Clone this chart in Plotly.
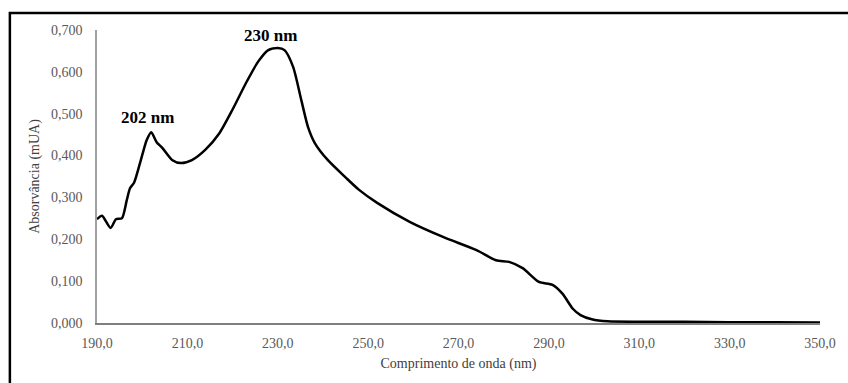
import plotly.graph_objects as go

wavelength = [190.0, 191.1, 193.0, 194.2, 195.5, 196.6, 197.3, 198.2, 199.9, 201.0, 202.0,
              203.2, 204.5, 206.7, 208.6, 211.0, 214.0, 217.0, 220.0, 223.0, 225.7, 227.9,
              230.0, 231.5, 233.4, 235.2, 236.7, 238.2, 241.1, 245.0, 248.0, 252.0, 259.3,
              266.7, 274.0, 278.3, 281.2, 284.2, 287.8, 290.8, 293.0, 295.3, 297.0, 299.5,
              303.0, 310.0, 320.0, 330.0, 340.0, 350.0]
absorbance = [0.248, 0.256, 0.227, 0.248, 0.250, 0.294, 0.322, 0.335, 0.397, 0.437, 0.456,
              0.432, 0.418, 0.389, 0.382, 0.389, 0.414, 0.452, 0.510, 0.574, 0.625, 0.652,
              0.657, 0.652, 0.612, 0.533, 0.468, 0.430, 0.389, 0.348, 0.318, 0.287, 0.241,
              0.205, 0.174, 0.150, 0.146, 0.131, 0.098, 0.091, 0.070, 0.034, 0.019, 0.009,
              0.004, 0.003, 0.003, 0.002, 0.002, 0.001]
x_ticks = [190, 210, 230, 250, 270, 290, 310, 330, 350]
y_ticks = [0.0, 0.1, 0.2, 0.3, 0.4, 0.5, 0.6, 0.7]
peak_labels = ["202 nm", "230 nm"]
peak_x = [201.2, 228.4]
peak_y = [0.492, 0.688]

FONT = "Liberation Serif, Times New Roman, serif"

fig = go.Figure()
fig.add_trace(go.Scatter(
    x=wavelength, y=absorbance, mode="lines",
    line=dict(color="black", width=2.5, shape="spline", smoothing=0.7),
    hoverinfo="skip", showlegend=False,
))

for t, xx, yy in zip(peak_labels, peak_x, peak_y):
    fig.add_annotation(x=xx, y=yy, text="<b>" + t + "</b>", showarrow=False,
                       font=dict(family=FONT, size=17, color="black"))

# outer frame
fig.add_shape(type="rect", xref="paper", yref="paper",
              x0=-0.1205, x1=1.2, y0=-0.5, y1=1.058,
              line=dict(color="black", width=2.5), layer="below")

fig.update_layout(
    width=848, height=383,
    margin=dict(l=97, r=21, t=30, b=60),
    paper_bgcolor="white", plot_bgcolor="white",
    separators=",.",
    font=dict(family=FONT, size=14, color="#595959"),
    xaxis=dict(
        range=[190, 350], tickvals=x_ticks, tickformat=".1f",
        showgrid=False, zeroline=False,
        showline=True, linecolor="#7f7f7f", linewidth=1.5,
        ticks="outside", ticklen=6, tickcolor="rgba(0,0,0,0)",
        title=dict(text="Comprimento de onda (nm)", standoff=9,
                   font=dict(family=FONT, size=14, color="#404040")),
    ),
    yaxis=dict(
        range=[0, 0.7], tickvals=y_ticks, tickformat=".3f",
        showgrid=False, zeroline=False,
        showline=True, linecolor="#a0a0a0", linewidth=1.5,
        ticks="outside", ticklen=10, tickcolor="rgba(0,0,0,0)",
        title=dict(text="Absorvância (mUA)", standoff=8,
                   font=dict(family=FONT, size=14, color="#404040")),
    ),
)

fig.write_html("out.html")
